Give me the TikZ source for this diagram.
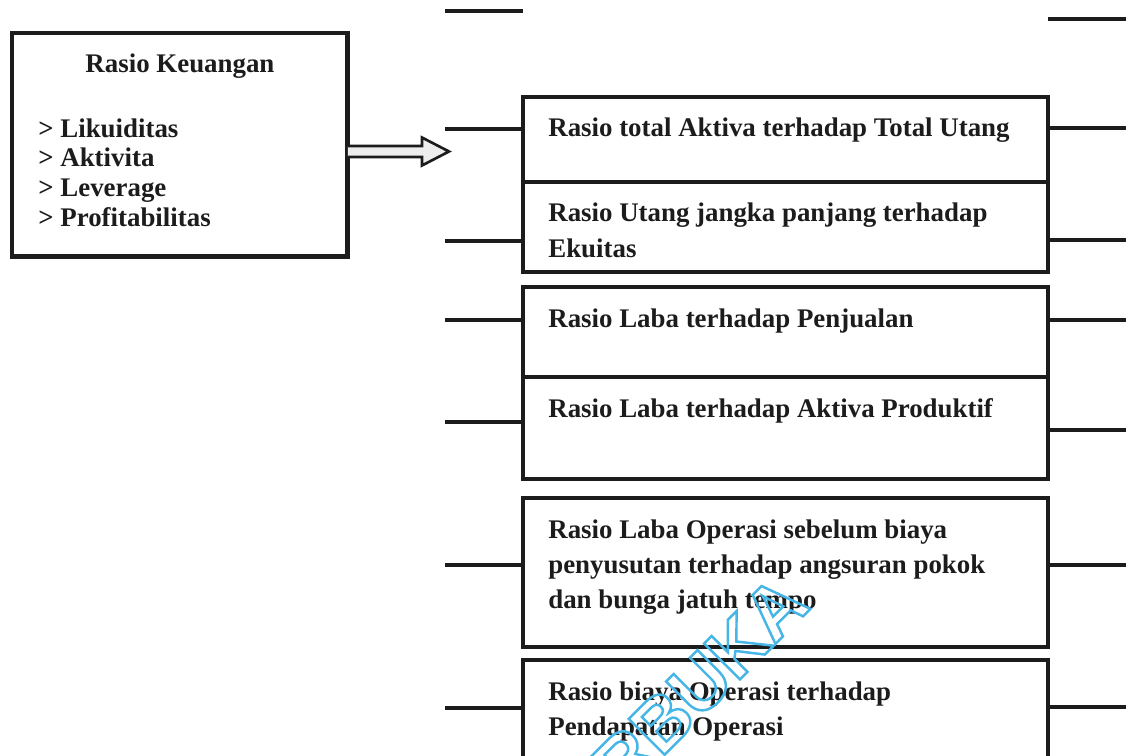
\documentclass[tikz,border=0pt]{standalone}
\usepackage{fontspec}
\setmainfont{Liberation Serif}
\setsansfont{Liberation Sans}
\usetikzlibrary{calc,positioning}

\definecolor{inkdark}{RGB}{28,28,28}
\definecolor{wmblue}{RGB}{70,182,230}

\tikzset{
  kbox/.style={draw=inkdark, line width=2.8pt, minimum width=6.72cm, minimum height=4.48cm,
    inner sep=0pt, outer sep=0pt, anchor=north west},
  rbox/.style={draw=inkdark, line width=2.3pt, minimum width=10.5cm, inner sep=0pt,
    outer sep=0pt, anchor=north west},
  txt/.style={font=\bfseries\fontsize{15.3}{20.2}\selectfont, align=left, anchor=north west,
    inner sep=0pt, text=inkdark},
  stub/.style={draw=inkdark, line width=1.9pt},
  hollow/.style={draw=inkdark, fill=black!7, line width=1.5pt, line join=miter},
  wmark/.style={font=\sffamily\bfseries\fontsize{42}{42}\selectfont, text=wmblue, inner sep=0pt},
}

\begin{document}
\begin{tikzpicture}[x=0.02cm, y=-0.02cm]
  \useasboundingbox (0,0) rectangle (1126,756);

  % kotak rasio keuangan
  \node[kbox] (kb) at (12,33) {};
  \node[txt, anchor=north] (kbt) at ($(kb.north)+(0,21)$) {Rasio Keuangan};
  \node[txt, font=\bfseries\fontsize{15.3}{17}\selectfont] (kbl) at ($(kb.north west)+(26,85)$)
    {> Likuiditas\\> Aktivita\\> Leverage\\> Profitabilitas};

  % panah
  \coordinate (tip) at (449,151.5);
  \draw[hollow] ($(kb.east |- tip)+(0,-5.5)$) -- ++(74,0) -- ++(0,-8.5) -- (tip)
    -- ++(-27,14) -- ++(0,-8.5) -- ($(kb.east |- tip)+(0,5.5)$);

  % kotak rasio
  \node[rbox, minimum height=1.7cm]  (b1) at (523,97) {};
  \node[rbox, minimum height=1.8cm]  (b2) at (523,182) {};
  \node[rbox, minimum height=1.8cm]  (b3) at (523,287) {};
  \node[rbox, minimum height=2.04cm] (b4) at (523,377) {};
  \node[rbox, minimum height=2.98cm] (b5) at (523,498) {};
  \node[rbox, minimum height=3cm]    (b6) at (523,660) {};

  \foreach \b/\t in {b1/{Rasio total Aktiva terhadap Total Utang},
                     b2/{Rasio Utang jangka panjang terhadap\\Ekuitas},
                     b3/{Rasio Laba terhadap Penjualan},
                     b4/{Rasio Laba terhadap Aktiva Produktif},
                     b5/{Rasio Laba Operasi sebelum biaya\\penyusutan terhadap angsuran pokok\\dan bunga jatuh tempo},
                     b6/{Rasio biaya Operasi terhadap\\Pendapatan Operasi}}
    \node[txt] (\b-t) at ($(\b.north west)+(25,21)$) {\t};

  % garis kiri dan kanan
  \foreach \b/\ly/\ry in {b1/129/128, b2/241/240, b3/320/320, b4/422/430, b5/565/565, b6/708/707} {
    \coordinate (L) at (445,\ly);
    \coordinate (R) at (1126,\ry);
    \draw[stub] (L) -- (L -| \b.west);
    \draw[stub] (R -| \b.east) -- (R);
  }

  % potongan garis di atas
  \coordinate (ta) at (445,11);
  \coordinate (tb) at (523,11);
  \coordinate (tc) at (1048,19);
  \coordinate (td) at (1126,19);
  \draw[stub] (ta) -- (tb);
  \draw[stub] (tc) -- (td);

  % watermark
  \node[wmark, rotate=45] (wm) at (700,684)
    {\special{pdf:literal direct 1 Tr 1.4 w}RBUKA\special{pdf:literal direct 0 Tr}};
\end{tikzpicture}
\end{document}
